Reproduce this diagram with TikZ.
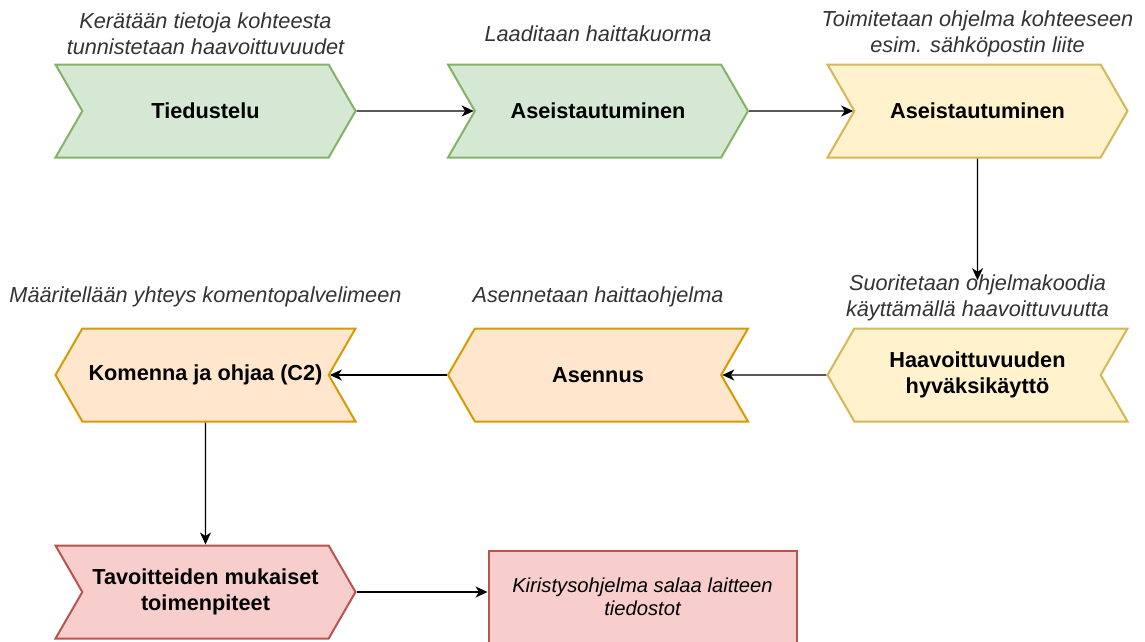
\documentclass[tikz,border=0pt]{standalone}
\usepackage{fontspec}
\setmainfont{Liberation Sans}
\usetikzlibrary{positioning,shapes.symbols,arrows.meta}

\definecolor{recongreen}{HTML}{D5E8D4}
\definecolor{recongreenline}{HTML}{82B366}
\definecolor{delivyellow}{HTML}{FFF2CC}
\definecolor{delivyellowline}{HTML}{D6B656}
\definecolor{instorange}{HTML}{FFE6CC}
\definecolor{instorangeline}{HTML}{D79B00}
\definecolor{actred}{HTML}{F8CECC}
\definecolor{actredline}{HTML}{B85450}
\definecolor{notegray}{HTML}{333333}

\tikzset{
  phase/.style={signal, signal pointer angle=120, draw, line width=2pt,
    minimum width=300pt, minimum height=93pt, inner sep=0pt, align=center,
    font=\fontsize{21.7}{26}\selectfont\bfseries},
  forward/.style={phase, signal to=east, signal from=west},
  backward/.style={phase, signal to=west, signal from=east},
  greenphase/.style={fill=recongreen, draw=recongreenline},
  yellowphase/.style={fill=delivyellow, draw=delivyellowline},
  orangephase/.style={fill=instorange, draw=instorangeline},
  redphase/.style={fill=actred, draw=actredline},
  note/.style={align=center, inner sep=0pt, text=notegray,
    font=\fontsize{21.7}{26}\selectfont\itshape},
}

\begin{document}
\begin{tikzpicture}[x=1pt, y=-1pt, on grid, line width=1.4pt,
    >={Stealth[length=12pt, width=11pt, inset=3.5pt]}]
    \useasboundingbox (0,0) rectangle (1145,641);

    % first row
    \node[forward, greenphase] (tied) at (205.5,111) {Tiedustelu};
    \node[forward, greenphase, right = 392.5pt of tied] (ase1) {Aseistautuminen};
    \node[forward, yellowphase, right = 379.5pt of ase1] (ase2) {Aseistautuminen};

    % second row
    \node[backward, yellowphase, below = 264pt of ase2] (haav) {Haavoittuvuuden\\hyväksikäyttö};
    \node[backward, orangephase, below = 264pt of ase1] (asen) {Asennus};
    \node[backward, orangephase, below = 264pt of tied] (c2) {Komenna ja ohjaa (C2)};

    % third row
    \node[forward, redphase, below = 217pt of c2] (tav) {Tavoitteiden mukaiset\\toimenpiteet};
    \node[redphase, draw, line width=2pt, minimum width=308pt, minimum height=93pt,
      align=center, font=\fontsize{20.2}{23}\selectfont\itshape,
      right = 437pt of tav, yshift=-5pt] (kiri) {Kiristysohjelma salaa laitteen\\tiedostot};

    % notes
    \node[note, above = 77pt of tied] (tiedlbl) {Kerätään tietoja kohteesta\\tunnistetaan haavoittuvuudet};
    \node[note, above = 77pt of ase1] (ase1lbl) {Laaditaan haittakuorma};
    \node[note, above = 77pt of ase2] (ase2lbl) {Toimitetaan ohjelma kohteeseen\\esim. sähköpostin liite};
    \node[note, above = 77pt of haav] (haavlbl) {Suoritetaan ohjelmakoodia\\käyttämällä haavoittuvuutta};
    \node[note, above = 78pt of asen] (asenlbl) {Asennetaan haittaohjelma};
    \node[note, above = 78pt of c2] (c2lbl) {Määritellään yhteys komentopalvelimeen};

    \draw[->] (tied) -- (ase1);
    \draw[->] (ase1) -- (ase2);
    \draw[->] (ase2) -- ([yshift=-6pt]haavlbl.north);
    \draw[->] (haav) -- (asen);
    \draw[->] (asen) -- (c2);
    \draw[->] (c2) -- (tav);
    \draw[->] (tav.east) -- (tav.east -| kiri.west);
\end{tikzpicture}
\end{document}
